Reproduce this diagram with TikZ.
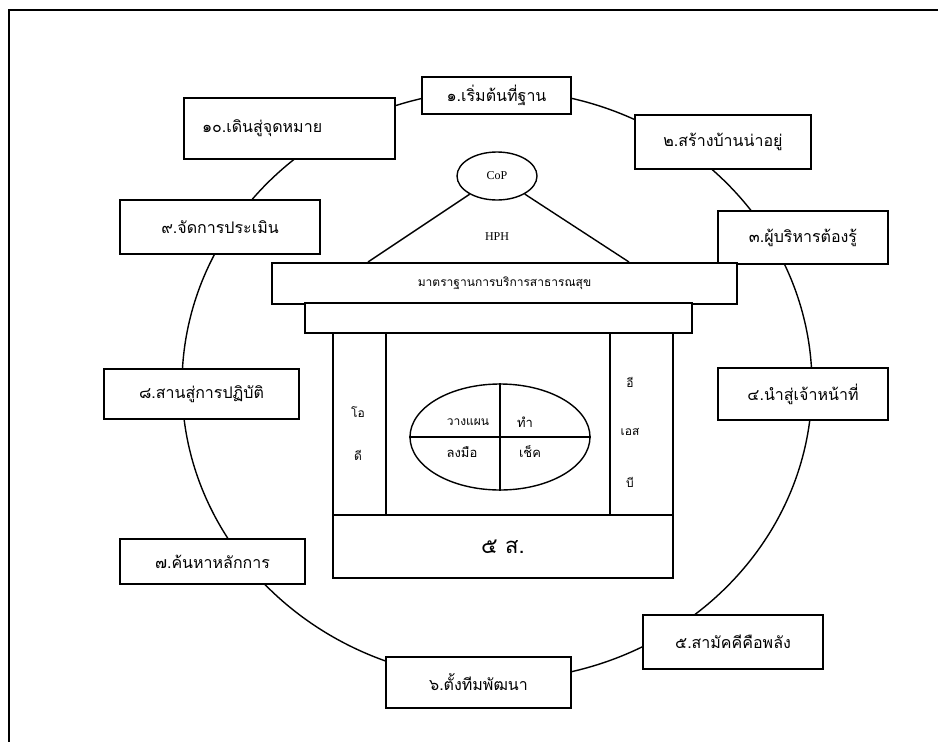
\documentclass[tikz,border=0pt]{standalone}
\usepackage{fontspec}
\setmainfont{Liberation Serif}
\newfontfamily\thaifont[Script=Thai]{Loma}
\usetikzlibrary{shapes.geometric}

\tikzset{
  stagebox/.style={draw, fill=white, line width=1.8pt, inner sep=0pt,
    font=\thaifont\fontsize{16}{19}\selectfont},
  housepart/.style={draw, fill=white, line width=1.8pt, inner sep=0pt},
  smalltext/.style={inner sep=0pt, font=\thaifont\fontsize{12}{14}\selectfont},
  pdcatext/.style={inner sep=0pt, font=\thaifont\fontsize{13}{15}\selectfont},
}

\begin{document}
\begin{tikzpicture}[x=1pt,y=1pt,yscale=-1]
    \useasboundingbox (0,0) rectangle (938,742);

    %Frame
    \draw[line width=1.6pt] (9,742) -- (9,10) -- (938,10);
    %Shape: Ellipse of the ten steps
    \draw[line width=1.4pt] (497,385) ellipse [x radius=315, y radius=295];

    %Shape: Rectangle (steps)
    \node[stagebox, minimum width=149, minimum height=37] (s1) at (496.5,95.5) {๑.เริ่มต้นที่ฐาน};
    \node[stagebox, minimum width=176, minimum height=54] (s2) at (723,142) {๒.สร้างบ้านน่าอยู่};
    \node[stagebox, minimum width=170, minimum height=53] (s3) at (803,237.5) {๓.ผู้บริหารต้องรู้};
    \node[stagebox, minimum width=170, minimum height=52] (s4) at (803,394) {๔.นำสู่เจ้าหน้าที่};
    \node[stagebox, minimum width=180, minimum height=54] (s5) at (733,642) {๕.สามัคคีคือพลัง};
    \node[stagebox, minimum width=185, minimum height=51] (s6) at (478.5,682.5) {๖.ตั้งทีมพัฒนา};
    \node[stagebox, minimum width=185, minimum height=45] (s7) at (212.5,561.5) {๗.ค้นหาหลักการ};
    \node[stagebox, minimum width=195, minimum height=50] (s8) at (201.5,394) {๘.สานสู่การปฏิบัติ};
    \node[stagebox, minimum width=200, minimum height=54] (s9) at (220,227) {๙.จัดการประเมิน};
    \node[stagebox, minimum width=211, minimum height=61, text width=175, align=left] (s10) at (289.5,128.5) {๑๐.เดินสู่จุดหมาย};

    %Shape: Roof
    \node[draw, ellipse, line width=1.4pt, minimum width=80, minimum height=48, inner sep=0pt,
      font=\fontsize{12}{14}\selectfont] (cop) at (497,176) {CoP};
    \coordinate (roofL) at (368,262);
    \coordinate (roofR) at (629,262);
    \draw[line width=1.4pt] (cop) -- (roofL);
    \draw[line width=1.4pt] (cop) -- (roofR);
    % Text Node
    \node[font=\fontsize{12}{14}\selectfont] (hph) at (497,237) {HPH};

    %Shape: Rectangle (house)
    \node[housepart, minimum width=465, minimum height=41, font=\thaifont\fontsize{12}{14}\selectfont] (standard) at (504.5,283.5) {มาตราฐานการบริการสาธารณสุข};
    \node[housepart, minimum width=387, minimum height=30] (frieze) at (498.5,318) {};
    \node[housepart, minimum width=53, minimum height=182] (pillarL) at (359.5,424) {};
    \node[housepart, minimum width=224, minimum height=182] (hall) at (498,424) {};
    \node[housepart, minimum width=63, minimum height=182] (pillarR) at (641.5,424) {};
    \node[housepart, minimum width=340, minimum height=63, font=\thaifont\fontsize{22}{26}\selectfont] (base) at (503,546.5) {๕ ส.};

    % Text Node
    \node[smalltext] (o) at (358,412) {โอ};
    \node[smalltext] (d) at (358,455) {ดี};
    \node[smalltext] (e) at (630,382) {อี};
    \node[smalltext] (s) at (630,432) {เอส};
    \node[smalltext] (b) at (630,482) {บี};

    %Shape: Ellipse (cycle of work)
    \node[draw, ellipse, line width=1.4pt, minimum width=180, minimum height=106, inner sep=0pt] (pdca) at (500,437) {};
    \draw[line width=1.4pt] (pdca.north) -- (pdca.south);
    \draw[line width=1.4pt] (pdca.west) -- (pdca.east);
    % Text Node
    \node[pdcatext, font=\thaifont\fontsize{12}{14}\selectfont] (plan) at (468,422) {วางแผน};
    \node[pdcatext] (do) at (525,422) {ทำ};
    \node[pdcatext] (act) at (462,452) {ลงมือ};
    \node[pdcatext] (check) at (530,452) {เช็ค};

\end{tikzpicture}
\end{document}
